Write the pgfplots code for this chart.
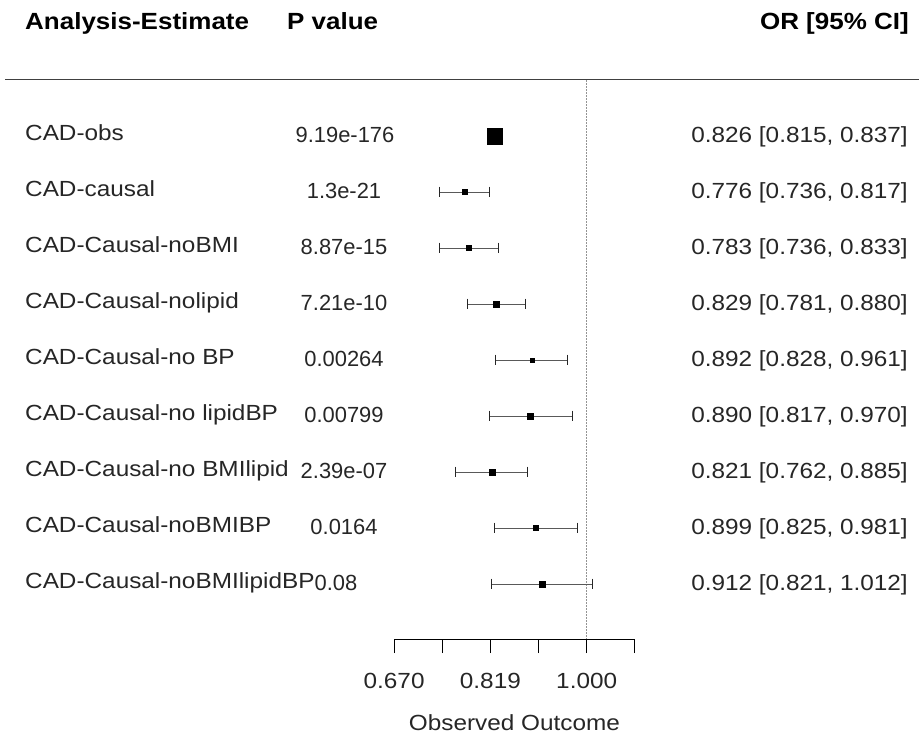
\documentclass[border=0pt]{standalone}
\usepackage{pgfplots}
\pgfplotsset{compat=1.18}
\usepackage{pgfplotstable}
\usepackage{fontspec}
\setmainfont[FakeStretch=1.11]{Liberation Sans}
\newfontfamily\plainsans{Liberation Sans}

% row, estimate, lower, upper, half size of the square
\pgfplotstableread{
row or    lo    hi    s
1   0.826 0.815 0.837 8.0
2   0.776 0.736 0.817 2.7
3   0.783 0.736 0.833 2.7
4   0.829 0.781 0.880 3.0
5   0.892 0.828 0.961 2.0
6   0.890 0.817 0.970 3.0
7   0.821 0.762 0.885 3.0
8   0.899 0.825 0.981 2.4
9   0.912 0.821 1.012 3.0
}\ortable

\begin{document}
\begin{tikzpicture}[font=\fontsize{22}{26}\selectfont]
\useasboundingbox (0,0) rectangle (919bp,736bp);
\begin{axis}[
  at={(0,0)}, anchor=south west,
  scale only axis, width=919bp, height=736bp,
  hide axis, clip=false,
  xmode=log, xmin=0.2956, xmax=1.9944,
  y dir=reverse, ymin=-1.42857, ymax=11.7143]
  % reference line at OR = 1
  \addplot[gray!85, dash pattern=on 1.5bp off 1.5bp, line width=1.3bp] coordinates {(1,0) (1,9.98)};
  % confidence intervals
  \addplot[black!65, line width=1bp, mark=|, mark size=5.3bp,
    mark options={black!85, line width=1bp, solid}, unbounded coords=jump]
    coordinates {
    (0.815,1) (0.837,1) (nan,nan)
    (0.736,2) (0.817,2) (nan,nan)
    (0.736,3) (0.833,3) (nan,nan)
    (0.781,4) (0.880,4) (nan,nan)
    (0.828,5) (0.961,5) (nan,nan)
    (0.817,6) (0.970,6) (nan,nan)
    (0.762,7) (0.885,7) (nan,nan)
    (0.825,8) (0.981,8) (nan,nan)
    (0.821,9) (1.012,9)
    };
  % point estimates
  \addplot[only marks, mark=square*, black, scatter,
    scatter/use mapped color={draw=black, fill=black},
    visualization depends on={\thisrow{s} \as \msize},
    scatter/@pre marker code/.append style={/tikz/mark size=\msize, /tikz/line width=0.2bp}]
    table[x=or, y=row] {\ortable};
\end{axis}

\begin{axis}[
  at={(394.1bp,97bp)}, anchor=south west,
  scale only axis, width=240.7bp, height=20bp,
  xmode=log, xmin=0.67032, xmax=1.10517, ymin=0, ymax=1,
  axis x line*=bottom, hide y axis,
  x axis line style={-, line width=1bp, black},
  xtick={0.67032,0.74082,0.81873,0.90484,1,1.10517},
  xticklabels={0.670,,0.819,,1.000,},
  tick align=outside, major tick length=14bp,
  every tick/.style={black, line width=1bp},
  xticklabel style={font=\fontsize{22}{26}\selectfont, text=black!85, yshift=-17bp},
  xlabel={Observed Outcome},
  xlabel style={font=\fontsize{22}{26}\selectfont, text=black!85, yshift=-19bp}]
  \addplot[draw=none] coordinates {(1,0.5)};
\end{axis}

\begin{scope}[shift={(0,736bp)}, x=1bp, y=-1bp]
  \draw[black!75, line width=1.3bp] (5,79.3) -- (919,79.3);
  \begin{scope}[every node/.style={inner sep=0pt, font=\fontsize{23.5}{28}\selectfont\bfseries}]
    \node[anchor=base west] at (25,30) {Analysis-Estimate};
    \node[anchor=base west] at (287,30) {P value};
    \node[anchor=base east] at (909,30) {OR [95\% CI]};
  \end{scope}
  \begin{scope}[every node/.style={inner sep=0pt, text=black!85}]
    \node[anchor=base west] at (25,141) {CAD-obs};
    \node[anchor=base west] at (25,197) {CAD-causal};
    \node[anchor=base west] at (25,253) {CAD-Causal-noBMI};
    \node[anchor=base west] at (25,309) {CAD-Causal-nolipid};
    \node[anchor=base west] at (25,365) {CAD-Causal-no BP};
    \node[anchor=base west] at (25,421) {CAD-Causal-no lipidBP};
    \node[anchor=base west] at (25,477) {CAD-Causal-no BMIlipid};
    \node[anchor=base west] at (25,533) {CAD-Causal-noBMIBP};
    \node[anchor=base west] at (25,589) {CAD-Causal-noBMIlipidBP};
  \end{scope}
  \begin{scope}[every node/.style={inner sep=0pt, text=black!85, anchor=base, font=\plainsans\fontsize{22}{26}\selectfont}]
    \node at (345,143) {9.19e-176};
    \node at (344,199) {1.3e-21};
    \node at (344,255) {8.87e-15};
    \node at (344,311) {7.21e-10};
    \node at (344,367) {0.00264};
    \node at (344,423) {0.00799};
    \node at (344,479) {2.39e-07};
    \node at (344,535) {0.0164};
    \node at (336,591) {0.08};
  \end{scope}
  \begin{scope}[every node/.style={inner sep=0pt, text=black!85, anchor=base east}]
    \node at (908,143) {0.826 [0.815, 0.837]};
    \node at (908,199) {0.776 [0.736, 0.817]};
    \node at (908,255) {0.783 [0.736, 0.833]};
    \node at (908,311) {0.829 [0.781, 0.880]};
    \node at (908,367) {0.892 [0.828, 0.961]};
    \node at (908,423) {0.890 [0.817, 0.970]};
    \node at (908,479) {0.821 [0.762, 0.885]};
    \node at (908,535) {0.899 [0.825, 0.981]};
    \node at (908,591) {0.912 [0.821, 1.012]};
  \end{scope}
\end{scope}
\end{tikzpicture}
\end{document}
